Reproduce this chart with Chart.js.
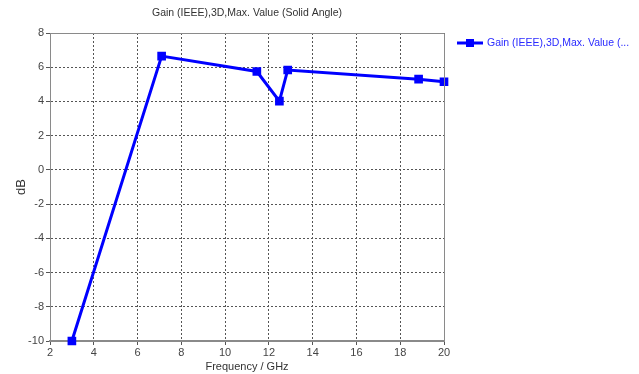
<!DOCTYPE html>
<html>
<head>
<meta charset="utf-8">
<script src="https://cdn.jsdelivr.net/npm/chart.js@4"></script>
<style>
  html, body { margin: 0; padding: 0; background: #fff; }
  #wrap { width: 639px; height: 374px; }
</style>
</head>
<body>
<div id="wrap"><canvas id="gainChart" width="639" height="374"></canvas></div>
<script>
// values
const freqGHz = [3, 7.1, 11.45, 12.48, 12.86, 18.84, 20];
const gainDb = [-10, 6.65, 5.75, 4.02, 5.84, 5.3, 5.15];
const xTicks = [2, 4, 6, 8, 10, 12, 14, 16, 18, 20];
const yTicks = [-10, -8, -6, -4, -2, 0, 2, 4, 6, 8];

const chartTitle = 'Gain (IEEE),3D,Max. Value (Solid Angle)';
const legendText = 'Gain (IEEE),3D,Max. Value (...';
const fontFamily = '"Liberation Sans", "DejaVu Sans", sans-serif';

// title, frame and legend drawn by hand
const decorPlugin = {
    id: 'decor',
    afterDraw(chart) {
        const ctx = chart.ctx;
        const area = chart.chartArea;
        ctx.save();
        // frame
        ctx.strokeStyle = '#8a8a8a';
        ctx.lineWidth = 1;
        ctx.beginPath();
        ctx.moveTo(area.left, area.top + 0.5);
        ctx.lineTo(area.right + 0.5, area.top + 0.5);
        ctx.lineTo(area.right + 0.5, area.bottom);
        ctx.stroke();

        // title
        ctx.fillStyle = '#333';
        ctx.font = '10.5px ' + fontFamily;
        ctx.textAlign = 'center';
        ctx.textBaseline = 'middle';
        ctx.fillText(chartTitle, (area.left + area.right) / 2, 13);

        // legend
        const ly = 43;
        ctx.strokeStyle = '#0000ff';
        ctx.lineWidth = 3;
        ctx.beginPath();
        ctx.moveTo(457, ly);
        ctx.lineTo(483, ly);
        ctx.stroke();
        ctx.fillStyle = '#0000ff';
        ctx.fillRect(466, ly - 4, 8, 8);
        ctx.textAlign = 'left';
        ctx.fillStyle = '#2b2bff';
        ctx.fillText(legendText, 487, ly);
        ctx.restore();
    }
};

const ctx = document.getElementById('gainChart').getContext('2d');

const myChart = new Chart(ctx, {
    type: 'line',
    data: {
        datasets: [{
            label: legendText,
            data: freqGHz.map((f, i) => ({ x: f, y: gainDb[i] })),
            borderColor: '#0000ff',
            backgroundColor: '#0000ff',
            borderWidth: 3,
            pointStyle: 'rect',
            pointRadius: 4,
            pointHoverRadius: 4,
            tension: 0,
            fill: false,
            clip: false
        }]
    },
    options: {
        responsive: false,
        animation: false,
        layout: { padding: { left: 0, right: 195, top: 33, bottom: 0 } },
        plugins: {
            legend: { display: false },
            title: { display: false },
            tooltip: { enabled: false }
        },
        scales: {
            x: {
                type: 'linear',
                min: 2,
                max: 20,
                afterBuildTicks: scale => { scale.ticks = xTicks.map(v => ({ value: v })); },
                afterFit: scale => { scale.height = 33; },
                grid: { color: '#555', drawTicks: true, tickLength: 4 },
                border: { color: '#8a8a8a', width: 2, dash: [2, 2] },
                ticks: { color: '#444', font: { family: fontFamily, size: 11 }, padding: 1, maxRotation: 0 },
                title: {
                    display: true,
                    text: 'Frequency / GHz',
                    color: '#333',
                    font: { family: fontFamily, size: 11 },
                    padding: { top: 1, bottom: 0 }
                }
            },
            y: {
                type: 'linear',
                min: -10,
                max: 8,
                afterBuildTicks: scale => { scale.ticks = yTicks.map(v => ({ value: v })); },
                afterFit: scale => { scale.width = 50; },
                grid: { color: '#555', drawTicks: true, tickLength: 4 },
                border: { color: '#8a8a8a', width: 1, dash: [2, 2] },
                ticks: { color: '#444', font: { family: fontFamily, size: 11 }, padding: 2 },
                title: {
                    display: true,
                    text: 'dB',
                    color: '#333',
                    font: { family: fontFamily, size: 13 },
                    padding: { top: 14, bottom: 0 }
                }
            }
        }
    },
    plugins: [decorPlugin]
});
</script>
</body>
</html>
